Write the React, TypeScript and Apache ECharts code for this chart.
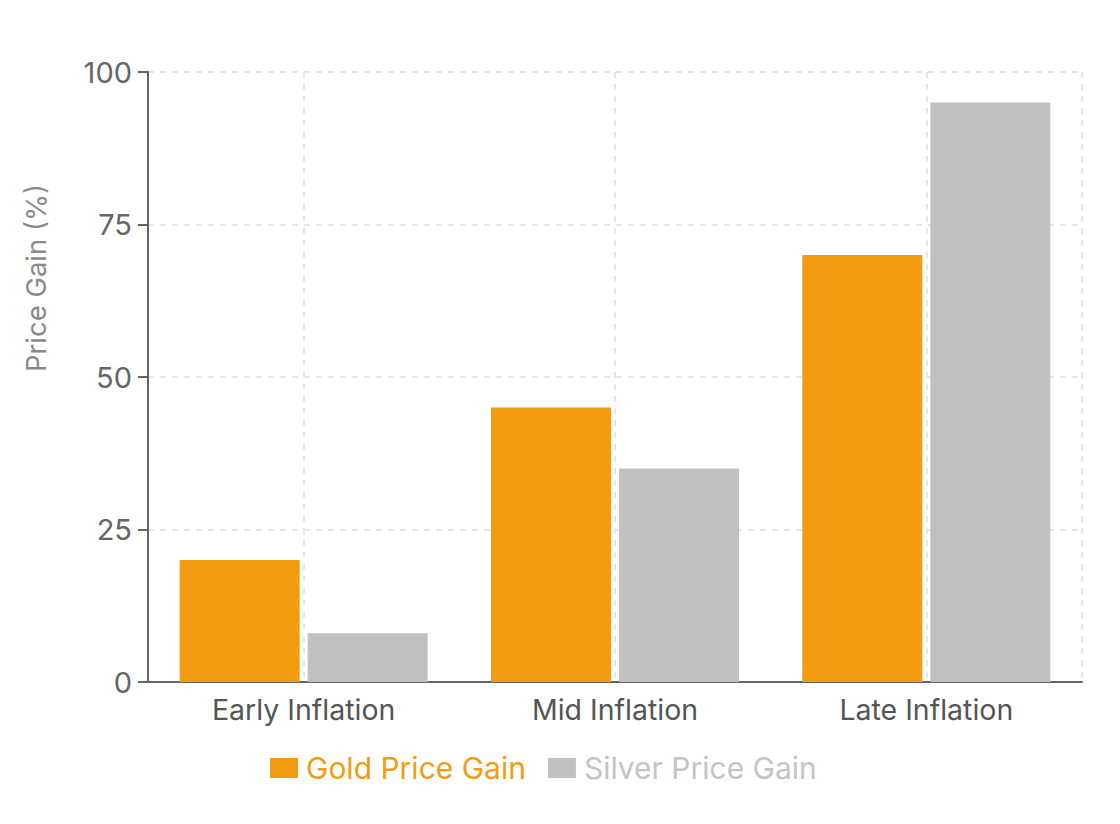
import React, { useEffect, useRef } from "react";
import * as echarts from "echarts";

const categories = ["Early Inflation", "Mid Inflation", "Late Inflation"];
const goldGain = [20, 45, 70];
const silverGain = [8, 35, 95];
const seriesNames = ["Gold Price Gain", "Silver Price Gain"];
const yTicks = { min: 0, max: 100, interval: 25 };

const FONT = "Inter, 'Noto Sans', sans-serif";
const GOLD = "#F39C12";
const SILVER = "#C0C0C0";
const GRIDLINE = "#e5e7eb";
const AXIS = "#666666";

export default function App() {
  const ref = useRef<HTMLDivElement>(null);
  useEffect(() => {
    if (!ref.current) return;
    const chart = echarts.init(ref.current, undefined, { renderer: "svg" });
    chart.setOption({
      animation: false,
      textStyle: { fontFamily: FONT },
      grid: { left: 148, right: 38, top: 72, bottom: 142, containLabel: false },
      legend: {
        left: 265,
        top: 748,
        itemWidth: 28,
        itemHeight: 20,
        itemGap: 22,
        icon: "rect",
        textStyle: { fontSize: 30, fontFamily: FONT, padding: [0, 0, 0, 3] },
        data: [
          { name: seriesNames[0], textStyle: { color: GOLD } },
          { name: seriesNames[1], textStyle: { color: "#c4c4c4" } },
        ],
      },
      xAxis: [
        {
          type: "category",
          data: categories,
          axisLine: { lineStyle: { color: AXIS, width: 2 } },
          axisTick: { alignWithLabel: true, length: 10, lineStyle: { color: AXIS, width: 2 } },
          axisLabel: { color: "#555", fontSize: 28.5, margin: 13, fontFamily: FONT },
          splitLine: {
            show: true,
            alignWithLabel: true,
            lineStyle: { color: GRIDLINE, type: [6, 6], width: 2 },
          },
        },
        {
          type: "value",
          position: "top",
          min: 0,
          max: 3,
          interval: 3,
          axisLine: { show: false },
          axisTick: { show: false },
          axisLabel: { show: false },
          splitLine: { show: true, lineStyle: { color: GRIDLINE, type: [6, 6], width: 2 } },
        },
      ],
      yAxis: {
        type: "value",
        min: yTicks.min,
        max: yTicks.max,
        interval: yTicks.interval,
        name: "Price Gain (%)",
        nameLocation: "middle",
        nameGap: 98,
        nameTextStyle: { color: "#8a8a8a", fontSize: 27.5, fontFamily: FONT, padding: [0, 0, 0, 198] },
        axisLine: { show: true, lineStyle: { color: AXIS, width: 2 } },
        axisTick: { show: true, length: 10, lineStyle: { color: AXIS, width: 2 } },
        axisLabel: { color: "#666", fontSize: 29, margin: 16, fontFamily: FONT },
        splitLine: { show: true, lineStyle: { color: GRIDLINE, type: [6, 6], width: 2 } },
      },
      series: [
        {
          name: seriesNames[0],
          type: "bar",
          xAxisIndex: 0,
          data: goldGain,
          barWidth: 120,
          barGap: "6.7%",
          itemStyle: { color: GOLD },
        },
        {
          name: seriesNames[1],
          type: "bar",
          xAxisIndex: 0,
          data: silverGain,
          barWidth: 120,
          barGap: "6.7%",
          itemStyle: { color: SILVER },
        },
      ],
    });
    return () => chart.dispose();
  }, []);
  return (
    <div
      ref={ref}
      style={{ position: "fixed", left: 0, top: 0, width: 1120, height: 824, background: "#fff" }}
    />
  );
}
